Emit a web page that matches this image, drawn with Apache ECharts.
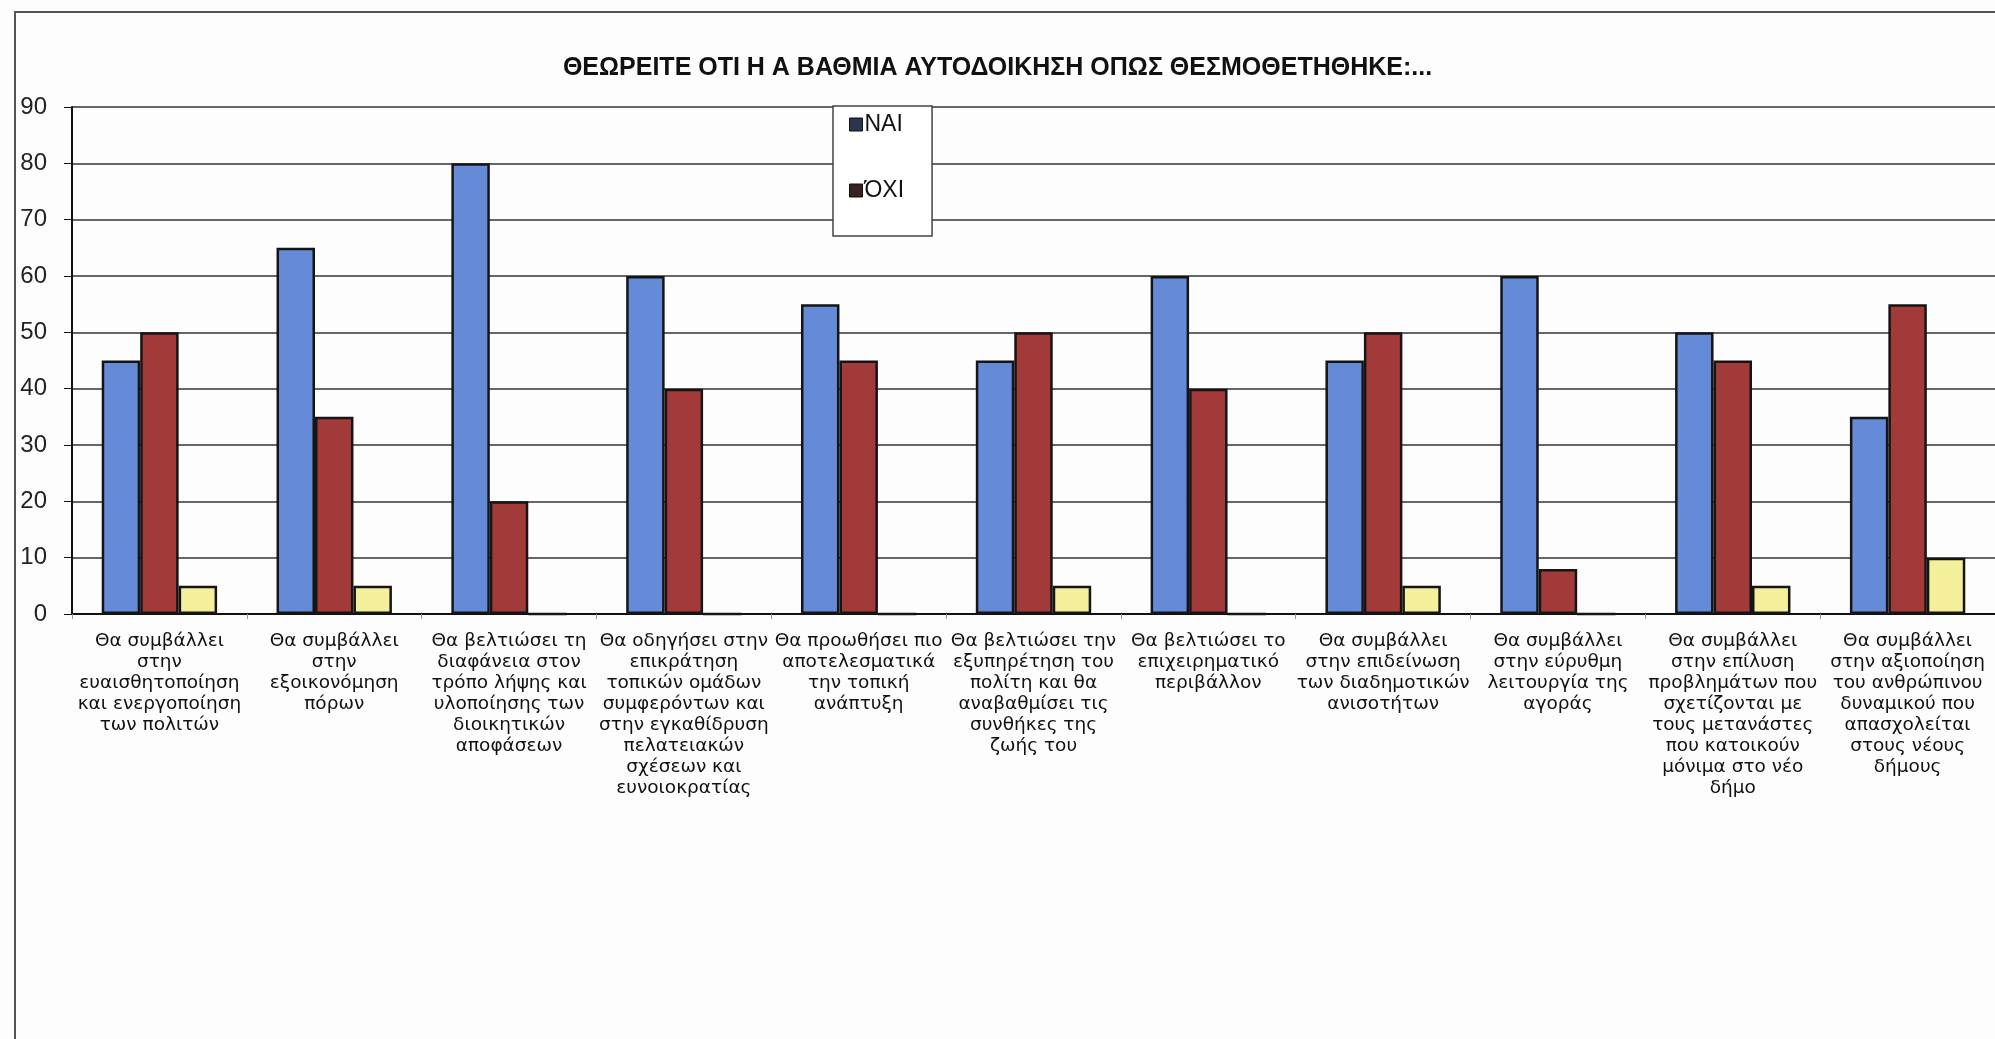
<!DOCTYPE html>
<html>
<head>
<meta charset="utf-8">
<script src="https://cdn.jsdelivr.net/npm/echarts@6/dist/echarts.min.js"></script>
<style>
html,body{margin:0;padding:0;background:#fdfdfd;}
#c{width:1995px;height:1039px;}
</style>
</head>
<body>
<div id="c"></div>
<script>
const titleText = 'ΘΕΩΡΕΙΤΕ ΟΤΙ Η Α ΒΑΘΜΙΑ ΑΥΤΟΔΟΙΚΗΣΗ ΟΠΩΣ ΘΕΣΜΟΘΕΤΗΘΗΚΕ:...';
const categories = [
  'Θα συμβάλλει\nστην\nευαισθητοποίηση\nκαι ενεργοποίηση\nτων πολιτών',
  'Θα συμβάλλει\nστην\nεξοικονόμηση\nπόρων',
  'Θα βελτιώσει τη\nδιαφάνεια στον\nτρόπο λήψης και\nυλοποίησης των\nδιοικητικών\nαποφάσεων',
  'Θα οδηγήσει στην\nεπικράτηση\nτοπικών ομάδων\nσυμφερόντων και\nστην εγκαθίδρυση\nπελατειακών\nσχέσεων και\nευνοιοκρατίας',
  'Θα προωθήσει πιο\nαποτελεσματικά\nτην τοπική\nανάπτυξη',
  'Θα βελτιώσει την\nεξυπηρέτηση του\nπολίτη και θα\nαναβαθμίσει τις\nσυνθήκες της\nζωής του',
  'Θα βελτιώσει το\nεπιχειρηματικό\nπεριβάλλον',
  'Θα συμβάλλει\nστην επιδείνωση\nτων διαδημοτικών\nανισοτήτων',
  'Θα συμβάλλει\nστην εύρυθμη\nλειτουργία της\nαγοράς',
  'Θα συμβάλλει\nστην επίλυση\nπροβλημάτων που\nσχετίζονται με\nτους μετανάστες\nπου κατοικούν\nμόνιμα στο νέο\nδήμο',
  'Θα συμβάλλει\nστην αξιοποίηση\nτου ανθρώπινου\nδυναμικού που\nαπασχολείται\nστους νέους\nδήμους'
];
const seriesNames = ['ΝΑΙ', 'ΌΧΙ', 'Δ/Α'];
const naiValues = [45, 65, 80, 60, 55, 45, 60, 45, 60, 50, 35];
const oxiValues = [50, 35, 20, 40, 45, 50, 40, 50, 8, 45, 55];
const otherValues = [5, 5, 0, 0, 0, 5, 0, 5, 0, 5, 10];
const yTicks = {min: 0, max: 90, interval: 10};

const font = '"Liberation Sans", Arial, sans-serif';
const labelFont = '"DejaVu Sans", "Liberation Sans", sans-serif';
const chart = echarts.init(document.getElementById('c'), null, {renderer: 'canvas'});
const barStyle = (c) => ({color: c, borderColor: '#151515', borderWidth: 2.5});
chart.setOption({
  backgroundColor: '#fdfdfd',
  animation: false,
  textStyle: {fontFamily: font},
  graphic: [{
    type: 'polyline',
    shape: {points: [[15, 1039], [15, 12], [1995, 12]]},
    style: {stroke: '#555', lineWidth: 2, fill: null},
    z: 0
  }],
  title: {
    text: titleText,
    left: 'center',
    top: 51,
    textStyle: {fontFamily: font, fontSize: 25, fontWeight: 'bold', color: '#111'}
  },
  legend: {
    data: [
      {name: seriesNames[0], itemStyle: {color: '#2b3550', borderColor: '#111', borderWidth: 1}},
      {name: seriesNames[1], itemStyle: {color: '#3a2020', borderColor: '#111', borderWidth: 1}}
    ],
    orient: 'vertical',
    left: 833,
    top: 106,
    padding: [7, 28, 34, 16],
    itemGap: 43,
    itemWidth: 13,
    itemHeight: 13,
    icon: 'rect',
    backgroundColor: '#fff',
    borderColor: '#444',
    borderWidth: 1.5,
    borderRadius: 0,
    textStyle: {fontFamily: font, fontSize: 23, color: '#111', padding: [0, 0, 0, -3]}
  },
  grid: {left: 72, top: 107, width: 1955, height: 507, containLabel: false},
  xAxis: {
    type: 'category',
    data: categories,
    axisLine: {lineStyle: {color: '#111', width: 2}},
    axisTick: {show: true, length: 5, lineStyle: {color: '#999'}},
    axisLabel: {
      interval: 0,
      margin: 17,
      fontFamily: labelFont,
      fontSize: 18.5,
      lineHeight: 21,
      color: '#111',
      align: 'center'
    }
  },
  yAxis: {
    type: 'value',
    min: yTicks.min,
    max: yTicks.max,
    interval: yTicks.interval,
    axisLine: {show: true, lineStyle: {color: '#111', width: 2}},
    axisTick: {show: true, length: 8, lineStyle: {color: '#111'}},
    axisLabel: {margin: 25, fontFamily: font, fontSize: 24, color: '#222'},
    splitLine: {show: true, lineStyle: {color: '#333', width: 1.5}}
  },
  series: [
    {name: seriesNames[0], type: 'bar', data: naiValues, barGap: '0%', barCategoryGap: '34%', itemStyle: barStyle('#658ad8')},
    {name: seriesNames[1], type: 'bar', data: oxiValues, barGap: '0%', barCategoryGap: '34%', itemStyle: barStyle('#a33a3a')},
    {name: seriesNames[2], type: 'bar', data: otherValues, barGap: '0%', barCategoryGap: '34%', itemStyle: barStyle('#f4ef9a')}
  ]
});
</script>
</body>
</html>
